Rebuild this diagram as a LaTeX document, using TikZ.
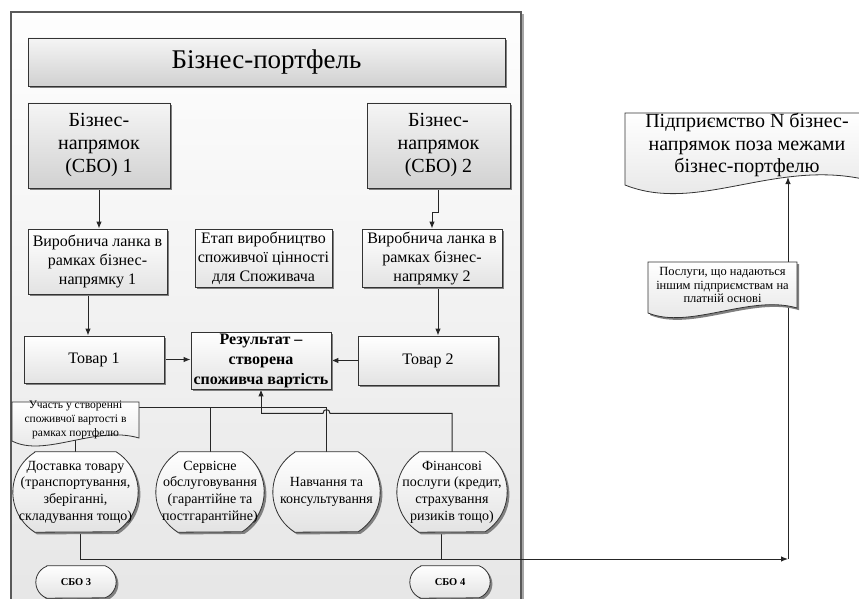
\documentclass[tikz,border=0pt]{standalone}
\usepackage{fontspec}
\setmainfont{Liberation Serif}
\usetikzlibrary{arrows.meta,calc,shadows}
\pgfdeclarelayer{bg}\pgfdeclarelayer{conn}\pgfdeclarelayer{shp}
\pgfsetlayers{bg,conn,shp,main}
\newcommand\stadiumoutline[4]{%
  \path[outl,shad] ($(#1.north west)+(#2,0)$) -- ($(#1.north east)+(-#2,0)$)
    arc[start angle=#4,end angle=-#4,radius=#3pt]
    -- ($(#1.south west)+(#2,0)$)
    arc[start angle=180+#4,end angle=180-#4,radius=#3pt] -- cycle;}
\begin{document}
\begin{tikzpicture}[x=1pt,y=-1pt,
  conn/.style={draw=black!85,line width=1pt},
  arr/.style={conn,-{Latex[length=7pt,width=5.5pt]}},
  shad/.style={drop shadow={shadow xshift=2.2pt,shadow yshift=-2.2pt,fill=black!50,opacity=1}},
  bigbox/.style={draw=black!80,line width=0.8pt,top color=gray!8,bottom color=gray!36,shad,align=center,inner sep=0pt},
  smallbox/.style={draw=black!80,line width=0.8pt,top color=white,bottom color=gray!22,shad,align=center,inner sep=0pt},
  txt/.style={align=center,inner sep=0pt},
  outl/.style={draw=black!80,line width=0.8pt,top color=white,bottom color=gray!22},
  fA/.style={font=\fontsize{27}{30}\selectfont},
  fB/.style={font=\fontsize{20}{23}\selectfont},
  fC/.style={font=\fontsize{16}{19}\selectfont},
  fCb/.style={font=\fontsize{16}{20}\selectfont\bfseries},
  fD/.style={font=\fontsize{14}{16.7}\selectfont},
  fE/.style={font=\fontsize{11.5}{14}\selectfont},
  fF/.style={font=\fontsize{12.5}{13.5}\selectfont},
  fG/.style={font=\fontsize{10.5}{12}\selectfont\bfseries},
  fH/.style={font=\fontsize{20}{22.5}\selectfont},
]
\useasboundingbox (0,0) rectangle (859,599);
\begin{pgfonlayer}{bg}
  \path[draw=black!65,line width=1.4pt,top color=gray!1,bottom color=gray!20,
        drop shadow={shadow xshift=2.5pt,shadow yshift=-2.5pt,fill=black!35,opacity=1}]
        (11,12) rectangle (521,625);
\end{pgfonlayer}

% rectangles
\node[bigbox,fA,minimum width=477pt,minimum height=48pt] (title) at (266.5,62) {Бізнес-портфель};
\node[bigbox,fB,minimum width=142pt,minimum height=85pt] (sbo1) at (99,145.5) {Бізнес-\\напрямок\\(СБО) 1};
\node[bigbox,fB,minimum width=143pt,minimum height=85pt] (sbo2) at (438.5,145.5) {Бізнес-\\напрямок\\(СБО) 2};
\node[smallbox,fC,minimum width=139pt,minimum height=65pt] (vyr1) at (97.5,261.5) {Виробнича ланка в\\рамках бізнес-\\напрямку 1};
\node[smallbox,fC,minimum width=137pt,minimum height=58pt] (etap) at (263.5,258) {Етап виробництво\\споживчої цінності\\для Споживача};
\node[smallbox,fC,minimum width=140pt,minimum height=58pt] (vyr2) at (432,258) {Виробнича ланка в\\рамках бізнес-\\напрямку 2};
\node[smallbox,fC,minimum width=140pt,minimum height=47pt] (tov1) at (94,359.5) {Товар 1};
\node[smallbox,fCb,minimum width=140pt,minimum height=57pt] (rez) at (261,360.5) {Результат –\\створена\\споживча вартість};
\node[smallbox,fC,minimum width=140pt,minimum height=49pt] (tov2) at (428,360.5) {Товар 2};

% documents (text)
\node[txt,fE,minimum width=127pt,minimum height=35pt] (uch) at (75.5,419.5) {Участь у створенні\\споживчої вартості в\\рамках портфелю};
\node[txt,fF,minimum width=149pt,minimum height=46pt] (posl) at (722.5,285) {Послуги, що надаються\\іншим підприємствам на\\платній основі};
\node[txt,fH] (pid) at (747,145) {Підприємство N бізнес-\\напрямок поза межами\\бізнес-портфелю};

% stadiums (text)
\node[txt,fD,minimum width=125pt,minimum height=80pt] (dost) at (75.5,492) {Доставка товару\\(транспортування,\\зберіганні,\\складування тощо)};
\node[txt,fD,minimum width=108pt,minimum height=80pt] (serv) at (210,492) {Сервісне\\обслуговування\\(гарантійне та\\постгарантійне)};
\node[txt,fD,minimum width=107pt,minimum height=80pt] (nav) at (326.5,492) {Навчання та\\консультування};
\node[txt,fD,minimum width=110pt,minimum height=80pt] (fin) at (452,492) {Фінансові\\послуги (кредит,\\страхування\\ризиків тощо)};
\node[txt,fG,minimum width=80pt,minimum height=32pt] (sbo3) at (76,582) {СБО 3};
\node[txt,fG,minimum width=80pt,minimum height=32pt] (sbo4) at (450,582) {СБО 4};

\coordinate (uchR) at (139,407);
\coordinate (uchW) at (75.5,440);
\coordinate (corner) at (788,559);
\coordinate (pidW) at (788,177);

\begin{pgfonlayer}{shp}
  \path[outl] (12,402) -- (139,402) -- (139,438) .. controls (95,425) and (45,458) .. (12,441) -- cycle;
  \path[outl,shad] (648,262) -- (797,262) -- (797,308) .. controls (750,294) and (690,330) .. (648,313) -- cycle;
  \path[outl] (625,113) -- (875,113) -- (875,182) .. controls (780,155) and (700,215) .. (625,185) -- cycle;
  \stadiumoutline{dost}{22}{47.36}{57.6}
  \stadiumoutline{serv}{22}{47.36}{57.6}
  \stadiumoutline{nav}{22}{47.36}{57.6}
  \stadiumoutline{fin}{22}{47.36}{57.6}
  \stadiumoutline{sbo3}{11}{17.14}{69}
  \stadiumoutline{sbo4}{11}{17.14}{69}
\end{pgfonlayer}

\begin{pgfonlayer}{conn}
  \draw[arr] (sbo1.south) -- (sbo1.south |- vyr1.north);
  \draw[arr] (sbo2.south) -- ++(0,24) -| (vyr2.north);
  \draw[arr] ($(vyr1.south)+(-9.5,0)$) coordinate (a1) -- (a1 |- tov1.north);
  \draw[arr] ($(vyr2.south)+(6,0)$) coordinate (a2) -- (a2 |- tov2.north);
  \draw[arr] (tov1.east) -- (tov1.east -| rez.west);
  \draw[arr] (tov2.west) -- (tov2.west -| rez.east);
  \draw[conn] (dost.north) -- (uchW);
  \draw[conn] (uchR) -- (nav.north |- uchR) -- (nav.north);
  \draw[conn] (serv.north) -- (serv.north |- uchR);
  \coordinate (jn) at ($(rez.south)+(0,24)$);
  \draw[arr] (jn) -- (rez.south);
  \draw[conn] (fin.north) -- (fin.north |- jn) -- ($(nav.north |- jn)+(3.5,0)$)
     .. controls +(0,-5) and +(0,-5) .. ($(nav.north |- jn)+(-3.5,0)$) -- (jn);
  \draw[arr] ($(dost.south)+(4.5,0)$) coordinate (a3) -- (a3 |- corner) -- (corner);
  \draw[conn] ($(fin.south)+(-11,0)$) coordinate (a4) -- (a4 |- corner);
  \draw[arr] (corner) -- (pidW);
\end{pgfonlayer}
\end{tikzpicture}
\end{document}
